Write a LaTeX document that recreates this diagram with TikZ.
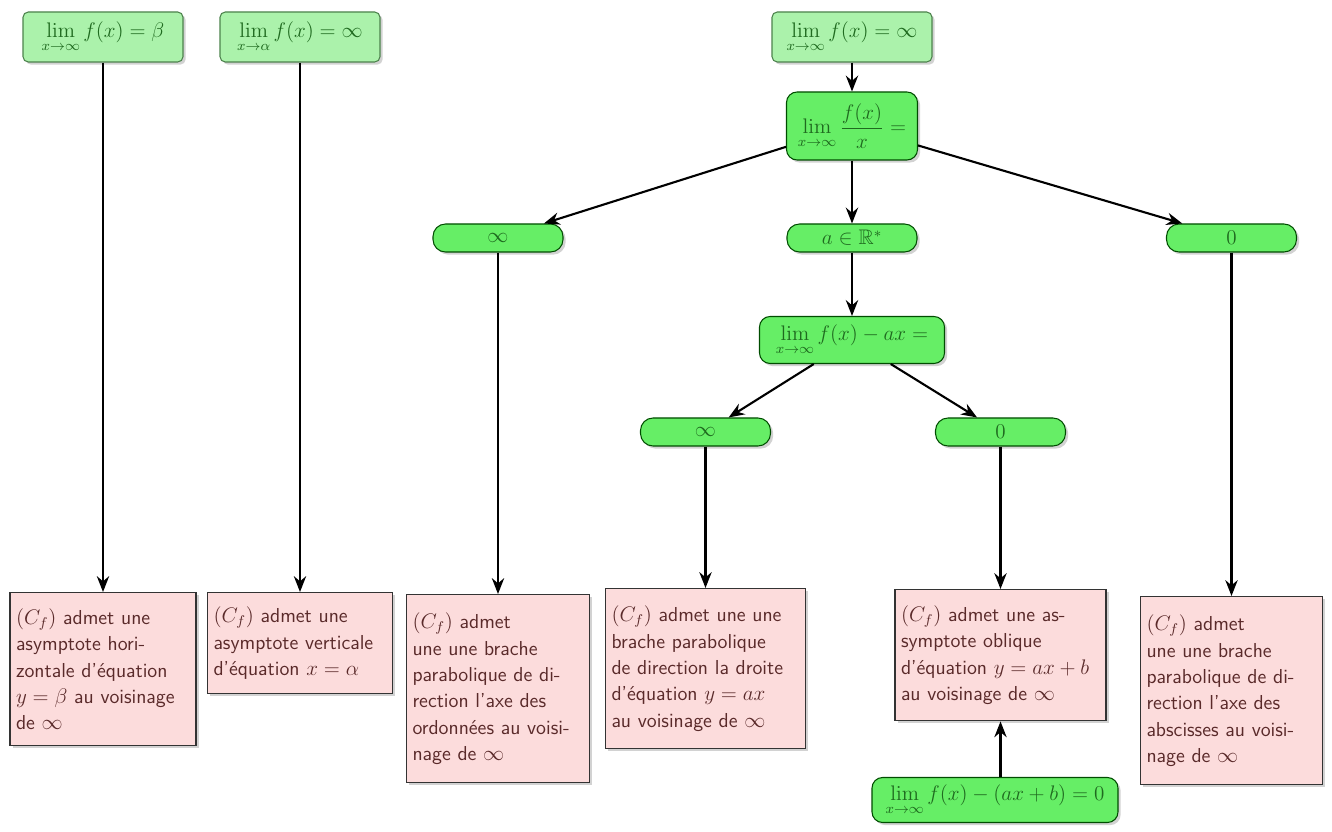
\documentclass[tikz,border=0pt]{standalone}
\usepackage{amsmath,amssymb}
\usetikzlibrary{arrows.meta,shadows}
\definecolor{limgreen}{HTML}{ABF2AB}
\definecolor{valgreen}{HTML}{66EE66}
\definecolor{conclpink}{HTML}{FCDCDC}
\definecolor{textgreen}{HTML}{1F6A1F}
\definecolor{textmaroon}{HTML}{5A2A2A}

\begin{document}
\begin{tikzpicture}[line width=1.2pt,
  limbox/.style={draw=green!30!black!70, line width=0.6pt, fill=limgreen, rounded corners=3pt,
    minimum width=3.2cm, minimum height=1cm, text=textgreen, font=\large,
    drop shadow={shadow xshift=1.5pt, shadow yshift=-1.5pt, fill=black!35}},
  testbox/.style={limbox, fill=valgreen, draw=green!30!black, rounded corners=6pt},
  valbox/.style={testbox, minimum width=2.6cm, minimum height=0.56cm, inner sep=1pt, rounded corners=0.25cm},
  concl/.style={draw=black!80, line width=0.8pt, fill=conclpink, anchor=north, align=left,
    inner xsep=0.12cm, inner ysep=0.15cm, text=textmaroon,
    font=\sffamily\fontsize{11.5}{15}\selectfont,
    drop shadow={shadow xshift=1.5pt, shadow yshift=-1.5pt, fill=black!35}},
  flow/.style={-{Stealth[length=9pt,width=7pt]}, line width=1.2pt}]
  \useasboundingbox (0,0) rectangle (26.64,16.62);
  % starting limits
  \node[limbox] (A1) at (2.06,15.88) {$\displaystyle\lim_{x\to\infty} f(x)=\beta$};
  \node[limbox] (A2) at (6.00,15.88) {$\displaystyle\lim_{x\to\alpha} f(x)=\infty$};
  \node[limbox] (A3) at (17.04,15.88) {$\displaystyle\lim_{x\to\infty} f(x)=\infty$};
  % first test f(x)/x
  \node[testbox, minimum width=2.62cm, minimum height=1.36cm] (B) at (17.04,14.10) {$\displaystyle\lim_{x\to\infty}\frac{f(x)}{x}=$};
  \node[valbox] (C1) at (9.96,11.86) {$\infty$};
  \node[valbox] (C2) at (17.04,11.86) {$a\in\mathbb{R}^*$};
  \node[valbox] (C3) at (24.63,11.86) {$0$};
  % second test f(x)-ax
  \node[testbox, minimum width=3.7cm, minimum height=0.94cm] (D) at (17.04,9.82) {$\displaystyle\lim_{x\to\infty} f(x)-ax=$};
  \node[valbox] (E1) at (14.11,7.98) {$\infty$};
  \node[valbox] (E2) at (20.01,7.98) {$0$};
  \node[testbox, minimum width=4.92cm, minimum height=0.9cm] (F) at (19.90,0.62) {$\displaystyle\lim_{x\to\infty} f(x)-(ax+b)=0$};
  % conclusions
  \node[concl, text width=3.48cm, minimum height=3.06cm] (P1) at (2.06,4.78) {$(C_f)$ admet une\\asymptote hori-\\zontale d'équation\\$y=\beta$ au voisinage\\de $\infty$};
  \node[concl, text width=3.46cm, minimum height=2.02cm] (P2) at (6.00,4.78) {$(C_f)$ admet une\\asymptote verticale\\d'équation $x=\alpha$};
  \node[concl, text width=3.42cm, minimum height=3.76cm] (P3) at (9.96,4.74) {$(C_f)$ admet\\une une brache\\parabolique de di-\\rection l'axe des\\ordonnées au voisi-\\nage de $\infty$};
  \node[concl, text width=3.76cm, minimum height=3.20cm] (P4) at (14.11,4.86) {$(C_f)$ admet une une\\brache parabolique\\de direction la droite\\d'équation $y=ax$\\au voisinage de $\infty$};
  \node[concl, text width=3.98cm, minimum height=2.62cm] (P5) at (20.01,4.84) {$(C_f)$ admet une as-\\symptote oblique\\d'équation $y=ax+b$\\au voisinage de $\infty$};
  \node[concl, text width=3.40cm, minimum height=3.76cm] (P6) at (24.63,4.70) {$(C_f)$ admet\\une une brache\\parabolique de di-\\rection l'axe des\\abscisses au voisi-\\nage de $\infty$};
  % connectors
  \draw[flow] (A1) -- (P1);
  \draw[flow] (A2) -- (P2);
  \draw[flow] (A3) -- (B);
  \draw[flow] (B) -- (C1);
  \draw[flow] (B) -- (C2);
  \draw[flow] (B) -- (C3);
  \draw[flow] (C1) -- (P3);
  \draw[flow] (C2) -- (D);
  \draw[flow] (C3) -- (P6);
  \draw[flow] (D) -- (E1);
  \draw[flow] (D) -- (E2);
  \draw[flow] (E1) -- (P4);
  \draw[flow] (E2) -- (P5);
  \draw[flow] (F.north -| P5) -- (P5);
\end{tikzpicture}
\end{document}
